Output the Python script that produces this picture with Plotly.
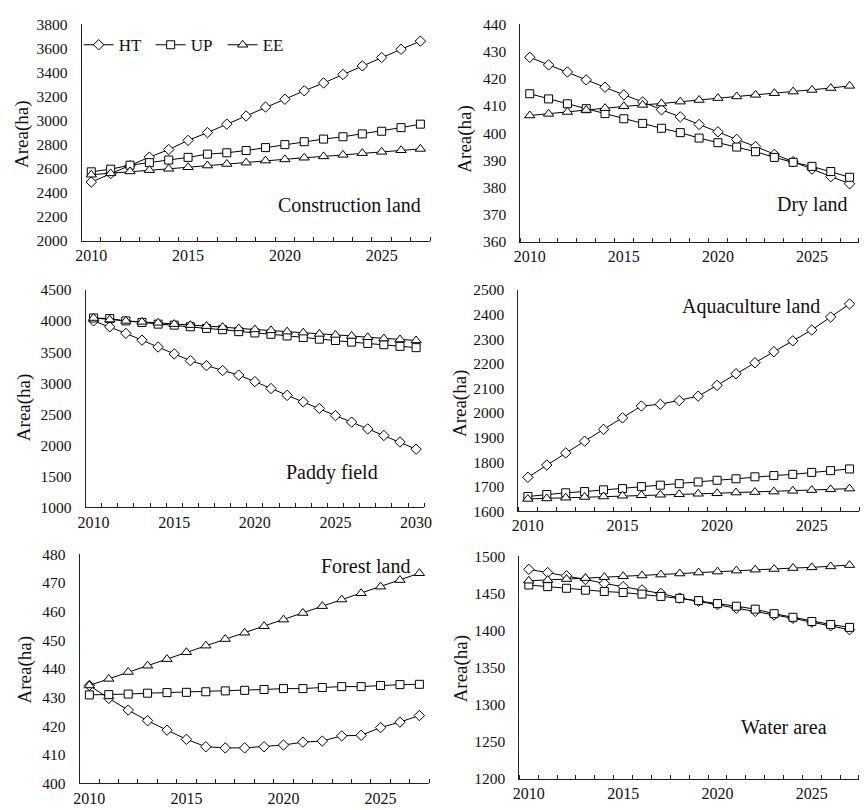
import plotly.graph_objects as go

# ---- data -------------------------------------------------------------
years = list(range(2010, 2028))
years_paddy = list(range(2010, 2031))
x_labels = [2010, 2015, 2020, 2025]
x_labels_paddy = [2010, 2015, 2020, 2025, 2030]
scenarios = ["HT", "UP", "EE"]

construction_ht = [2490, 2560, 2625, 2697, 2760, 2836, 2901, 2971, 3039, 3113,
                   3178, 3248, 3313, 3384, 3455, 3525, 3593, 3661]
construction_up = [2575, 2597, 2630, 2651, 2673, 2695, 2722, 2733, 2752, 2776,
                   2801, 2825, 2847, 2866, 2890, 2912, 2942, 2971]
construction_ee = [2551, 2562, 2578, 2589, 2600, 2613, 2627, 2640, 2651, 2668,
                   2678, 2692, 2703, 2716, 2730, 2741, 2754, 2765]

dry_ht = [427.9, 425.1, 422.5, 419.6, 416.9, 414.1, 411.5, 408.6, 406.0, 403.2,
          400.5, 397.7, 395.1, 392.2, 389.5, 386.8, 384.0, 381.4]
dry_up = [414.5, 412.6, 410.8, 409.0, 407.2, 405.3, 403.6, 401.8, 400.2, 398.2,
          396.5, 394.9, 393.2, 391.1, 389.3, 387.8, 385.9, 383.8]
dry_ee = [406.5, 407.1, 407.8, 408.5, 409.2, 409.9, 410.4, 410.9, 411.6, 412.2,
          412.9, 413.5, 414.1, 414.7, 415.3, 415.9, 416.6, 417.4]

paddy_ht = [4002, 3907, 3802, 3692, 3582, 3471, 3361, 3282, 3203, 3129, 3024,
            2913, 2803, 2698, 2593, 2477, 2372, 2262, 2157, 2052, 1936]
paddy_up = [4049, 4039, 4002, 3976, 3950, 3934, 3907, 3881, 3860, 3829, 3808,
            3787, 3760, 3734, 3708, 3687, 3660, 3639, 3618, 3592, 3571]
paddy_ee = [4049, 4023, 4002, 3986, 3971, 3950, 3934, 3918, 3902, 3881, 3865,
            3850, 3829, 3813, 3792, 3776, 3760, 3739, 3718, 3702, 3687]

aqua_ht = [1738, 1788, 1837, 1885, 1933, 1980, 2028, 2035, 2050, 2068,
           2112, 2159, 2204, 2249, 2293, 2337, 2390, 2443]
aqua_up = [1660, 1668, 1675, 1680, 1687, 1692, 1700, 1706, 1712, 1719,
           1726, 1732, 1740, 1745, 1750, 1758, 1765, 1772]
aqua_ee = [1650, 1652, 1655, 1658, 1660, 1663, 1665, 1667, 1669, 1671,
           1673, 1676, 1678, 1680, 1683, 1686, 1689, 1692]

forest_ht = [434.2, 429.7, 425.6, 421.9, 418.6, 415.4, 412.8, 412.4, 412.4, 412.8,
             413.4, 414.4, 414.8, 416.6, 416.8, 419.5, 421.4, 423.7]
forest_up = [430.9, 431.0, 431.2, 431.5, 431.7, 431.8, 432.0, 432.3, 432.5, 432.8,
             433.1, 433.1, 433.5, 433.8, 433.8, 434.2, 434.5, 434.6]
forest_ee = [434.2, 436.5, 438.9, 441.1, 443.4, 445.8, 448.1, 450.4, 452.6, 454.9,
             457.2, 459.5, 461.9, 464.2, 466.4, 468.7, 471.0, 473.4]

water_ht = [1482.4, 1478.0, 1473.6, 1468.7, 1463.4, 1459.0, 1454.6, 1449.8, 1443.6, 1439.2,
            1434.8, 1430.0, 1425.6, 1420.7, 1416.3, 1411.0, 1406.2, 1400.9]
water_up = [1461.2, 1459.0, 1456.8, 1454.2, 1452.4, 1451.1, 1448.9, 1445.8, 1443.2, 1440.1,
            1436.1, 1432.6, 1428.6, 1422.5, 1417.6, 1411.9, 1407.9, 1404.0]
water_ee = [1467.0, 1467.8, 1469.2, 1470.5, 1471.8, 1473.1, 1474.0, 1475.3, 1476.7, 1478.0,
            1479.3, 1480.6, 1481.9, 1482.8, 1484.1, 1485.0, 1486.3, 1488.1]

# ---- panel definitions -------------------------------------------------
W, H = 867, 810
FONT = "Liberation Serif"

panels = [
    dict(name="Construction land", x=years, xt=x_labels,
         series=[construction_ht, construction_up, construction_ee],
         yr=(2000, 3800), dy=200, dom_x=(75, 430), dom_y=(15.7, 237),
         label=(348, 200), ytitle=(15, 128)),
    dict(name="Dry land", x=years, xt=x_labels,
         series=[dry_ht, dry_up, dry_ee],
         yr=(360, 440), dy=10, dom_x=(522, 867), dom_y=(15.7, 238),
         label=(820, 200), ytitle=(466, 132)),
    dict(name="Paddy field", x=years_paddy, xt=x_labels_paddy,
         series=[paddy_ht, paddy_up, paddy_ee],
         yr=(1000, 4500), dy=500, dom_x=(79, 424), dom_y=(287, 509),
         label=(330, 473), ytitle=(17, 407)),
    dict(name="Aquaculture land", x=years, xt=x_labels,
         series=[aqua_ht, aqua_up, aqua_ee],
         yr=(1600, 2500), dy=100, dom_x=(520, 867), dom_y=(287, 513),
         label=(757, 304), ytitle=(460, 403)),
    dict(name="Forest land", x=years, xt=x_labels,
         series=[forest_ht, forest_up, forest_ee],
         yr=(400, 480), dy=10, dom_x=(73, 429), dom_y=(557, 791),
         label=(364, 569), ytitle=(17, 675)),
    dict(name="Water area", x=years, xt=x_labels,
         series=[water_ht, water_up, water_ee],
         yr=(1200, 1500), dy=50, dom_x=(521, 867), dom_y=(559, 786),
         label=(791, 733), ytitle=(461, 673)),
]

symbols = ["diamond", "square", "triangle-up"]
sizes = [8, 8, 9]

fig = go.Figure()
annotations = []
layout = {}

for i, p in enumerate(panels, start=1):
    xa = "x" if i == 1 else f"x{i}"
    ya = "y" if i == 1 else f"y{i}"
    for s, (name, vals) in enumerate(zip(scenarios, p["series"])):
        fig.add_trace(go.Scatter(
            x=p["x"], y=vals, name=name, xaxis=xa, yaxis=ya,
            mode="lines+markers",
            line=dict(color="black", width=1),
            marker=dict(symbol=symbols[s], size=sizes[s], color="white",
                        line=dict(color="black", width=1)),
            showlegend=(i == 1),
        ))
    x0, x1 = p["dom_x"]
    t0, t1 = p["dom_y"]
    first, last = p["x"][0], p["x"][-1]
    layout[f"xaxis{i}"] = dict(
        domain=[x0 / W, x1 / W], anchor=ya,
        range=[first - 0.5, last + 0.5],
        tickmode="array", tickvals=p["xt"], ticks="",
        showline=True, linecolor="#222", linewidth=1,
        showgrid=False, zeroline=False,
        tickfont=dict(family=FONT, size=16, color="#111"),
        ticklabelstandoff=0,
        minor=dict(tickmode="linear", tick0=first - 0.5, dtick=1,
                   ticks="inside", ticklen=4, tickcolor="#222",
                   showgrid=False),
    )
    lo, hi = p["yr"]
    layout[f"yaxis{i}"] = dict(
        domain=[1 - t1 / H, 1 - t0 / H], anchor=xa,
        range=[lo, hi], tickmode="linear", tick0=lo, dtick=p["dy"],
        showline=True, linecolor="#222", linewidth=1,
        showgrid=False, zeroline=False, ticks="",
        tickfont=dict(family=FONT, size=15.5, color="#111"),
        ticklabelstandoff=10,
    )
    lx, ly = p["label"]
    annotations.append(dict(
        text=p["name"], x=lx / W, y=1 - ly / H, xref="paper", yref="paper",
        showarrow=False, xanchor="center", yanchor="middle",
        font=dict(family=FONT, size=20, color="#111"),
    ))
    tx, ty = p["ytitle"]
    annotations.append(dict(
        text="Area(ha)", x=tx / W, y=1 - ty / H, xref="paper", yref="paper",
        showarrow=False, xanchor="center", yanchor="middle", textangle=-90,
        font=dict(family=FONT, size=19, color="#111"),
    ))

fig.update_layout(
    width=W, height=H,
    margin=dict(l=0, r=0, t=0, b=0),
    paper_bgcolor="white", plot_bgcolor="white",
    annotations=annotations,
    legend=dict(
        orientation="h", x=72 / W, y=1 - 37 / H, xanchor="left", yanchor="middle",
        font=dict(family=FONT, size=17, color="#111"),
        bgcolor="rgba(0,0,0,0)", entrywidth=27, entrywidthmode="pixels",
        itemwidth=30, tracegroupgap=0,
    ),
    **layout,
)

fig.write_html("out.html")
